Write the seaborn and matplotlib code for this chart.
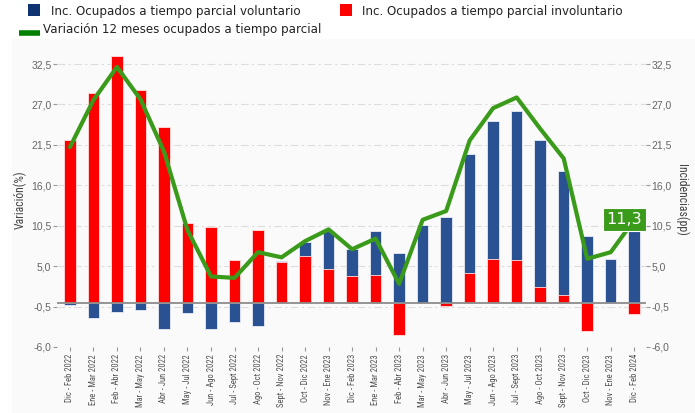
import numpy as np
import pandas as pd
import matplotlib
matplotlib.use("Agg")
import matplotlib.pyplot as plt
from matplotlib.patches import Rectangle
from matplotlib.lines import Line2D
import seaborn as sns

categories = ["Dic - Feb 2022", "Ene - Mar 2022", "Feb - Abr 2022", "Mar - May 2022",
              "Abr - Jun 2022", "May - Jul 2022", "Jun - Ago 2022", "Jul - Sept 2022",
              "Ago - Oct 2022", "Sept - Nov 2022", "Oct - Dic 2022", "Nov - Ene 2023",
              "Dic - Feb 2023", "Ene - Mar 2023", "Feb - Abr 2023", "Mar - May 2023",
              "Abr - Jun 2023", "May - Jul 2023", "Jun - Ago 2023", "Jul - Sept 2023",
              "Ago - Oct 2023", "Sept - Nov 2023", "Oct - Dic 2023", "Nov - Ene 2023",
              "Dic - Feb 2024"]
voluntario = [-0.3, -2.0, -1.3, -1.0, -3.6, -1.4, -3.5, -2.6, -3.2, 0.25, 1.9, 5.2,
              3.6, 6.0, 6.75, 10.6, 11.7, 16.2, 18.8, 20.2, 20.1, 16.8, 9.1, 6.0, 12.9]
involuntario = [22.1, 28.6, 33.6, 28.9, 23.9, 10.9, 10.3, 5.8, 9.9, 5.5, 6.4, 4.6,
                3.7, 3.8, -4.3, 0.0, -0.4, 4.1, 6.0, 5.9, 2.1, 1.1, -3.8, 0.0, -1.5]
variacion = [21.2, 27.6, 32.1, 27.7, 20.6, 9.9, 3.6, 3.4, 6.9, 6.2, 8.4, 10.0,
             7.3, 8.75, 2.6, 11.3, 12.5, 22.1, 26.5, 27.95, 23.7, 19.65, 6.0, 6.9, 11.3]
yticks = [-6.0, -0.5, 5.0, 10.5, 16.0, 21.5, 27.0, 32.5]

BLUE = "#2A5293"
RED = "#FF0000"
GREEN = "#3A9A1A"
LEG_GREEN = "#008000"

sns.set_theme(style="white")
plt.rcParams["font.family"] = ["DejaVu Sans"]
NARROW = ["Roboto Condensed", "DejaVu Sans"]

n = len(categories)
idx = np.arange(n)
vol = np.array(voluntario)
inv = np.array(involuntario)
# stacked positive parts: blue sits above red when both positive
blue_top = np.where((vol > 0) & (inv > 0), vol + inv, vol)
df = pd.DataFrame({"i": idx, "blue": blue_top, "red": inv, "var": variacion})

fig = plt.figure(figsize=(6.95, 4.13), dpi=100)
fig.patch.set_facecolor("white")
fig.add_artist(Rectangle((12 / 695, 0), 1, 1 - 39 / 413, transform=fig.transFigure,
                         facecolor="#FAFAFA", edgecolor="none", zorder=0))

ax = fig.add_axes([57 / 695, (413 - 347) / 413, (646 - 57) / 695, (347 - 53) / 413])
ax.set_facecolor("none")

sns.barplot(data=df, x="i", y="blue", ax=ax, color=BLUE, saturation=1, width=0.49,
            edgecolor="#e8ecf4", linewidth=0.6, zorder=2)
sns.barplot(data=df, x="i", y="red", ax=ax, color=RED, saturation=1, width=0.49,
            edgecolor="#ffe0e0", linewidth=0.6, zorder=2)
sns.lineplot(data=df, x="i", y="var", ax=ax, color=GREEN, linewidth=3, zorder=4)
ax.axhline(0, color="#8c8c8c", linewidth=1.3, zorder=3)

ax.set_xlim(-0.55, n - 1 + 0.5)
ax.set_ylim(-6.0, 34.0)
ax.set_yticks(yticks)
ax.set_yticklabels([f"{t:.1f}".replace(".", ",") for t in yticks])
ax.set_xticks(idx)
ax.set_xticklabels(categories, rotation=90, fontsize=6.2, color="#555555", family=NARROW)
ax.set_xlabel("")
ax.set_ylabel("Variación(%)", fontsize=8.5, color="#444444", family=NARROW, labelpad=3)
for yv in yticks:
    ax.axhline(yv, color="#dddddd", linewidth=0.8, linestyle=(0, (7, 3, 2, 3)), zorder=1)
for s in ax.spines.values():
    s.set_visible(False)
ax.tick_params(axis="y", length=3, width=0.8, color="#999999", labelsize=7.5,
               labelcolor="#666666", pad=1, left=True)
ax.tick_params(axis="x", length=3, width=0.8, color="#999999", pad=2, bottom=True)
for lab in ax.get_yticklabels():
    lab.set_family(["Liberation Sans", "DejaVu Sans"])

ax2 = ax.twinx()
ax2.set_ylim(ax.get_ylim())
ax2.set_yticks(yticks)
ax2.set_yticklabels([f"{t:.1f}".replace(".", ",") for t in yticks])
for s in ax2.spines.values():
    s.set_visible(False)
ax2.tick_params(axis="y", length=3, width=0.8, color="#999999", labelsize=7.5,
                labelcolor="#666666", pad=1, right=True)
for lab in ax2.get_yticklabels():
    lab.set_family(["Liberation Sans", "DejaVu Sans"])
ax2.set_ylabel("Incidencias(pp)", rotation=-90, fontsize=8.5, color="#444444",
               family=NARROW, labelpad=12)
ax2.grid(False)

ax.annotate("11,3", xy=(n - 1, variacion[-1]), xytext=(n - 1 - 0.42, variacion[-1]),
            textcoords="data", ha="center", va="center", fontsize=11.5, color="white",
            zorder=6, bbox=dict(boxstyle="square,pad=0.25", fc=GREEN, ec="white", lw=0.8))

def fx(px):
    return px / 695
def fy(py):
    return 1 - py / 413
fig.add_artist(Rectangle((fx(28), fy(16)), 12 / 695, 12 / 413, transform=fig.transFigure,
                         facecolor="#0E3370", edgecolor="none"))
fig.text(fx(51), fy(12), "Inc. Ocupados a tiempo parcial voluntario", fontsize=8.6,
         color="#222222", va="center", ha="left")
fig.add_artist(Rectangle((fx(340), fy(16)), 12 / 695, 12 / 413, transform=fig.transFigure,
                         facecolor=RED, edgecolor="none"))
fig.text(fx(362), fy(12), "Inc. Ocupados a tiempo parcial involuntario", fontsize=8.6,
         color="#222222", va="center", ha="left")
fig.add_artist(Line2D([fx(19), fx(40)], [fy(32.5), fy(32.5)], transform=fig.transFigure,
                      color=LEG_GREEN, linewidth=4, solid_capstyle="butt"))
fig.text(fx(43), fy(30), "Variación 12 meses ocupados a tiempo parcial", fontsize=8.6,
         color="#222222", va="center", ha="left")

fig.savefig("out.png", dpi=100, facecolor="white")
